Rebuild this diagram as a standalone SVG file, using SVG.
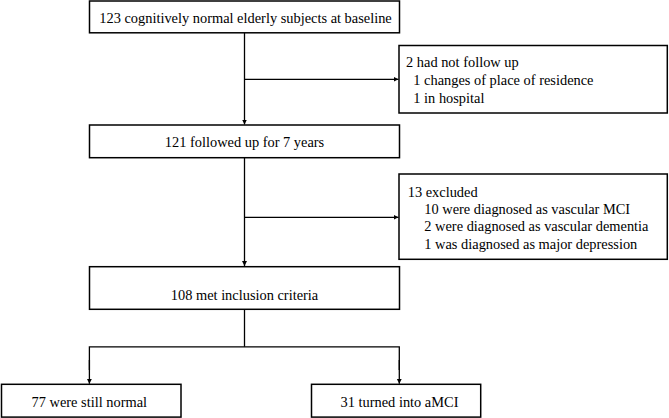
<svg xmlns="http://www.w3.org/2000/svg" width="669" height="418" viewBox="0 0 669 418">
<style>
.box{fill:#fff;stroke:#000;stroke-width:1.5}
.t{font-family:"Liberation Serif","Times New Roman","DejaVu Serif",serif;font-size:14.4px;fill:#000}
.c{text-anchor:middle}
.ln{fill:none;stroke:#000;stroke-width:1.3}
</style>
<defs>
<marker id="ah" markerWidth="6" markerHeight="6" refX="5" refY="3" orient="auto" markerUnits="userSpaceOnUse">
<path d="M0,0.5 L5,3 L0,5.5 Z" fill="#000"/>
</marker>
</defs>
<rect width="669" height="418" fill="#fff"/>
<g id="connectors">
<line class="ln" x1="244.5" y1="33" x2="244.5" y2="124.5" marker-end="url(#ah)"/>
<line class="ln" x1="244.5" y1="79.3" x2="398.5" y2="79.3" marker-end="url(#ah)"/>
<line class="ln" x1="244.5" y1="158" x2="244.5" y2="266" marker-end="url(#ah)"/>
<line class="ln" x1="244.5" y1="217.3" x2="398.5" y2="217.3" marker-end="url(#ah)"/>
<polyline class="ln" points="244.5,309.5 244.5,346.8"/>
<polyline class="ln" points="89.4,370 89.4,346.8 399.3,346.8 399.3,370"/>
<line class="ln" x1="89.4" y1="360" x2="89.4" y2="383.8" marker-end="url(#ah)"/>
<line class="ln" x1="399.3" y1="360" x2="399.3" y2="383.8" marker-end="url(#ah)"/>
</g>
<g id="n1">
<rect class="box" x="89.5" y="1" width="310" height="31.8"/>
<text class="t c" x="245.5" y="22.5">123 cognitively normal elderly subjects at baseline</text>
</g>
<g id="n2">
<rect class="box" x="399" y="45.5" width="268.3" height="67.5"/>
<text class="t" x="406" y="67.3">2 had not follow up</text>
<text class="t" x="413.3" y="85">1 changes of place of residence</text>
<text class="t" x="413.3" y="102.7">1 in hospital</text>
</g>
<g id="n3">
<rect class="box" x="89.5" y="125" width="310" height="32.7"/>
<text class="t c" x="244.5" y="147">121 followed up for 7 years</text>
</g>
<g id="n4">
<rect class="box" x="399" y="174" width="268.3" height="85.3"/>
<text class="t" x="407.7" y="196.5">13 excluded</text>
<text class="t" x="424.3" y="214">10 were diagnosed as vascular MCI</text>
<text class="t" x="424.3" y="231.3">2 were diagnosed as vascular dementia</text>
<text class="t" x="424.3" y="248.7">1 was diagnosed as major depression</text>
</g>
<g id="n5">
<rect class="box" x="89.5" y="266.7" width="310" height="42.6"/>
<text class="t c" x="244.5" y="300">108 met inclusion criteria</text>
</g>
<g id="n6">
<rect class="box" x="1.5" y="384.3" width="179.5" height="32.8"/>
<text class="t c" x="89.3" y="406.5">77 were still normal</text>
</g>
<g id="n7">
<rect class="box" x="311.5" y="384.3" width="169.2" height="32.8"/>
<text class="t c" x="399.5" y="406.5">31 turned into aMCI</text>
</g>
</svg>
